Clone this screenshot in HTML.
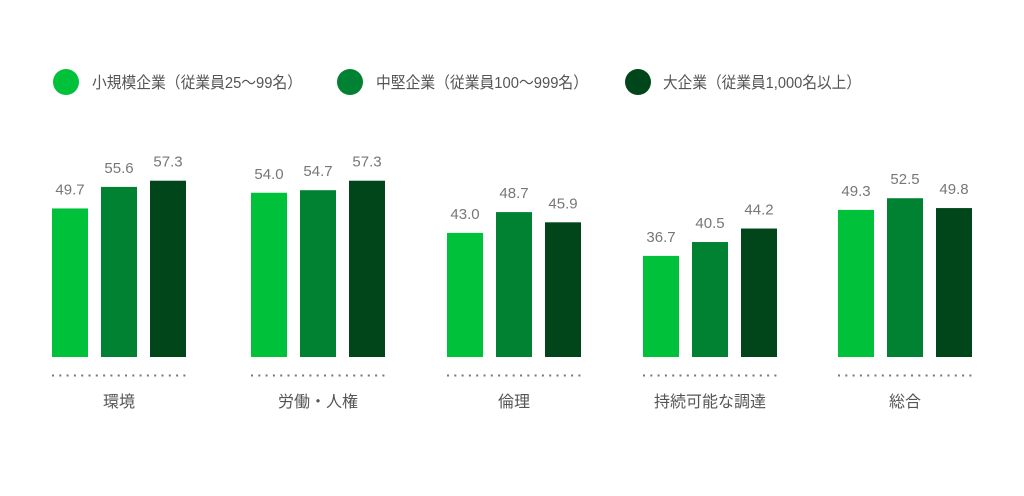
<!DOCTYPE html>
<html><head><meta charset="utf-8"><style>
html,body{margin:0;padding:0;background:#fff;}
svg text{font-family:"Liberation Sans","Noto Sans CJK JP",sans-serif;}
</style></head><body>
<svg id="c" width="1024" height="491" xmlns="http://www.w3.org/2000/svg">
<circle cx="66" cy="82" r="13" fill="#00c23a"/>
<text x="92" y="88" font-size="16" fill="#555" textLength="210" lengthAdjust="spacingAndGlyphs">小規模企業（従業員25～99名）</text>
<circle cx="350" cy="82" r="13" fill="#008232"/>
<text x="376" y="88" font-size="16" fill="#555" textLength="212" lengthAdjust="spacingAndGlyphs">中堅企業（従業員100～999名）</text>
<circle cx="638" cy="82" r="13" fill="#00461a"/>
<text x="663" y="88" font-size="16" fill="#555" textLength="198" lengthAdjust="spacingAndGlyphs">大企業（従業員1,000名以上）</text>
</svg>
<script>
var svg=document.getElementById('c'),ns='http://www.w3.org/2000/svg';
var groups=[["環境",52,[49.7,55.6,57.3]],["労働・人権",251,[54.0,54.7,57.3]],["倫理",447,[43.0,48.7,45.9]],["持続可能な調達",643,[36.7,40.5,44.2]],["総合",838,[49.3,52.5,49.8]]];
var cols=["#00c23a","#008232","#00461a"];
function el(t,a,txt){var e=document.createElementNS(ns,t);for(var k in a)e.setAttribute(k,a[k]);if(txt)e.textContent=txt;svg.appendChild(e);return e;}
groups.forEach(function(g){
 var x0=g[1];
 g[2].forEach(function(v,i){
  var x=x0+i*49,top=357-(v-9)*3.65;
  el('rect',{x:x,y:top,width:36,height:357-top,fill:cols[i]});
  el('text',{x:x+18,y:top-14,'font-size':15,fill:'#777','text-anchor':'middle'},v.toFixed(1));
 });
 el('line',{x1:x0,y1:375.5,x2:x0+134,y2:375.5,stroke:'#777','stroke-width':2,'stroke-dasharray':'2 5.3'});
 el('text',{x:x0+67,y:407,'font-size':16,fill:'#555','text-anchor':'middle'},g[0]);
});
</script>
</body></html>
